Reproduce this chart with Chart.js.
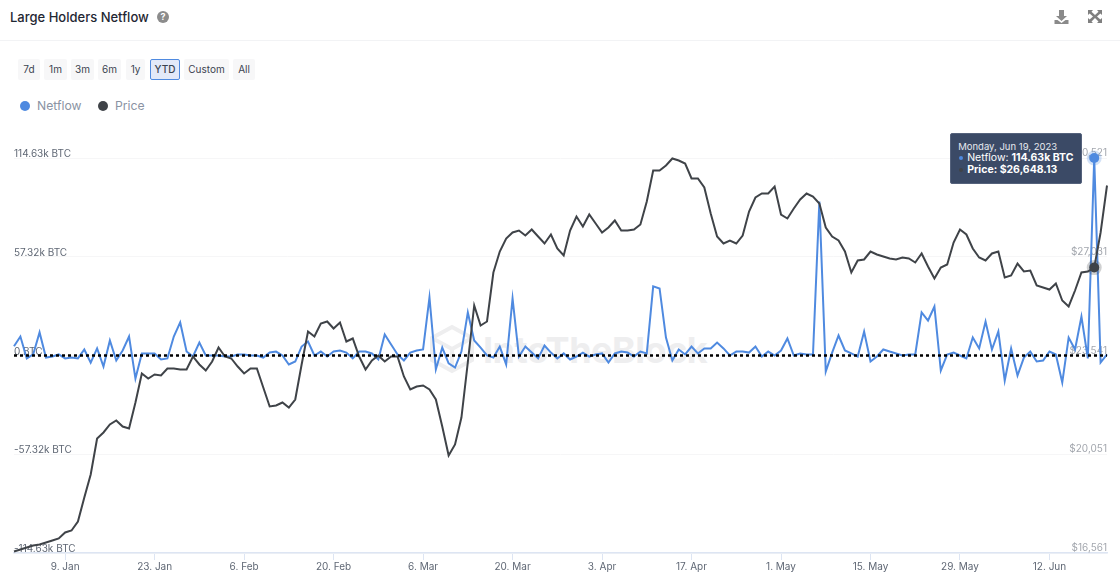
<!DOCTYPE html>
<html>
<head>
<meta charset="utf-8">
<title>Large Holders Netflow</title>
<script src="https://cdn.jsdelivr.net/npm/chart.js@4"></script>
<style>
    html, body { margin: 0; padding: 0; background: #fff; }
    body { width: 1120px; height: 582px; position: relative; overflow: hidden; font-family: Inter, "Noto Sans", sans-serif; }
    #title { position: absolute; left: 10px; top: 8px; font-size: 13px; line-height: 18px; font-weight: 500; color: #1f2733; }
    #help { position: absolute; left: 157px; top: 11px; width: 12px; height: 12px; border-radius: 50%; background: #8c8c8c; color: #fff; font-size: 9px; font-weight: 700; line-height: 12px; text-align: center; }
    #rule { position: absolute; left: 0; top: 40px; width: 1120px; height: 1px; background: #f2f3f5; }
    .icon { position: absolute; top: 9px; }
    .range { position: absolute; top: 59px; height: 21px; line-height: 21px; box-sizing: border-box; text-align: center; font-size: 10px; color: #3b4350; background: #f7f7f8; border-radius: 2px; }
    .range.on { background: #e3e9f8; border: 1px solid #4f8ae0; line-height: 19px; font-weight: 500; }
    .dot { position: absolute; top: 101px; width: 10px; height: 10px; border-radius: 50%; }
    .legend { position: absolute; top: 97px; line-height: 18px; font-size: 12.2px; color: #8a93a3; }
    #mark { position: absolute; left: 427px; top: 324px; }
    #markText { position: absolute; left: 483px; top: 328px; font-size: 36px; line-height: 44px; font-weight: 700; color: #eeeeef; letter-spacing: -0.5px; white-space: nowrap; }
    #chart { position: absolute; left: 0; top: 0; }
    #tip { position: absolute; width: 132px; height: 51px; box-sizing: border-box; padding: 7px 7px; background: #3b4a66; border: 1px solid #55627c; border-radius: 2px; color: #fff; font-size: 10.5px; line-height: 12px; white-space: nowrap; }
    #tip .day { font-size: 9.5px; color: #e6e9ef; margin-bottom: 0; line-height: 11px; }
    #tip i { display: inline-block; width: 4px; height: 4px; border-radius: 50%; margin: 0 4px 1px 1px; vertical-align: middle; }
    #tip b { font-weight: 700; }
</style>
</head>
<body>
<div id="title">Large Holders Netflow</div>
<div id="help">?</div>
<svg class="icon" style="left:1054px" width="15" height="16" viewBox="0 0 15 16"><path d="M5 1h5v6h3l-5.500 5L2 7h3z" fill="#8a8a8a"/><path d="M0.500 11h3l4 3 4-3h3v4h-14z" fill="#8a8a8a"/></svg>
<svg class="icon" style="left:1088px" width="14" height="15" viewBox="0 0 14 15"><path d="M0 1h5L3.500 2.700 7 6 10.500 2.700 9 1h5v5l-1.600-1.500L9 7.500l3.400 3L14 9v5H9l1.500-1.600L7 9l-3.500 3.400L5 14H0V9l1.600 1.500L5 7.500 1.600 4.500 0 6z" fill="#7f7f7f"/></svg>
<div id="rule"></div>
<div id="ranges"></div>
<div class="dot" style="left:20px;background:#4f8ae0"></div>
<div class="legend" style="left:37px">Netflow</div>
<div class="dot" style="left:98px;background:#3f4348"></div>
<div class="legend" style="left:115px">Price</div>
<svg id="mark" width="50" height="50" viewBox="0 0 50 50" fill="none" stroke="#eeeeef" stroke-width="4"><path d="M25 3l20 11v22L25 47 5 36V14z"/><path d="M5 14l20 11 20-11M25 25v22"/></svg>
<div id="markText">IntoTheBlock</div>
<canvas id="chart" width="1120" height="582"></canvas>
<div id="tip" style="display:none"></div>

<script>
const startDate = new Date(Date.UTC(2023, 0, 1));
const rangeButtons = ['7d', '1m', '3m', '6m', '1y', 'YTD', 'Custom', 'All'];
const rangeLefts = [18, 44, 71, 98, 126, 150, 184, 233];
const rangeWidths = [22, 23, 23, 23, 19, 30, 45, 22];

// Netflow, thousands of BTC, one value per day from Jan 1
const netflow = [
    5.4, 11.0, -1.7, 0.6, 13.4, -1.2, -0.6, 0.6, -1.7, -1.2,
    -1.7, 3.5, -4.1, 4.1, -6.4, 8.7, -2.9, 2.9, 11.0, -13.4,
    1.2, 1.2, 1.2, -2.3, -1.7, 11.0, 19.2, 2.3, -0.6, 7.5,
    0, 0, 0, -0.6, -0.6, 0.6, 0.6, 0, 0, -1.2,
    1.7, 2.3, 0, -5.2, -3.5, 5.2, 8.1, 0, 2.3, -0.6,
    2.3, 2.9, 1.7, -1.7, 2.3, 2.3, 1.2, -2.3, 12.2, 6.4,
    0.6, -2.9, 1.7, 2.9, 3.5, 33.7, -8.1, 4.6, -4.6, -7.0,
    2.3, 25.0, 8.7, 4.6, 0, -1.2, 5.2, -5.2, 33.1, -0.6,
    5.2, 1.7, -1.7, 5.8, 1.7, -1.7, 1.2, -2.3, -0.6, 1.7,
    -0.6, 0.6, 1.2, -4.1, 1.2, 2.3, 1.7, -0.6, 2.3, 1.2,
    40.1, 38.9, 10.4, -2.9, 3.5, 0.6, 5.2, 1.2, 4.1, 4.1,
    7.5, 4.1, 0, 2.3, 2.3, 1.7, 5.2, -0.6, 2.3, 0,
    2.9, 9.9, 0, 1.2, 0.6, 0.6, 89.4, -9.3, 1.7, 11.6,
    2.9, 1.2, -0.6, 13.9, -3.5, -0.6, 3.5, 2.3, 1.2, 0,
    0.6, 0.6, 25.0, 20.3, 28.4, -8.7, 0.6, 1.7, 0, -1.7,
    10.4, 4.1, 19.7, 3.5, 13.9, -14.5, 4.1, -11.6, -1.2, 2.3,
    -3.5, -2.9, 2.3, 0.6, -15.7, 10.4, 3.5, 22.6, -1.7, 114.63,
    -4.1, 0.6
];

// BTC price in USD, same days
const price = [
    16614, 16685, 16756, 16826, 16862, 16932, 17003, 17074, 17286, 17356,
    17675, 18523, 19336, 20608, 20820, 21103, 21244, 21032, 20961, 21880,
    22905, 22728, 22870, 22834, 23082, 23082, 23046, 23046, 23506, 23223,
    23011, 23329, 23824, 23506, 23435, 23152, 22905, 23082, 23082, 22410,
    21739, 21774, 21880, 21703, 21986, 23223, 24389, 24212, 24672, 24743,
    24495, 24707, 24036, 24142, 23506, 23046, 23364, 23541, 23329, 23506,
    23506, 22799, 22339, 22445, 22481, 22339, 21986, 21032, 20007, 20396,
    21350, 23294, 25308, 24601, 24743, 26474, 27216, 27676, 27888, 27959,
    27782, 27994, 27746, 27499, 27817, 27322, 27075, 27959, 28453, 28100,
    28524, 28206, 27888, 28065, 28312, 27959, 27959, 27994, 28171, 28983,
    30079, 30079, 30256, 30503, 30432, 30326, 29796, 29796, 29478, 28559,
    27746, 27499, 27605, 27499, 27782, 28630, 29125, 29266, 29266, 29513,
    28524, 28383, 28736, 29054, 29266, 29160, 28913, 28065, 27746, 27605,
    27216, 26474, 26898, 26934, 27216, 27110, 27040, 26969, 26934, 27004,
    26969, 26828, 27146, 26686, 26262, 26651, 26757, 27534, 27994, 27817,
    27322, 27004, 26898, 27146, 27216, 26298, 26368, 26792, 26510, 26545,
    26015, 25944, 25873, 26085, 25485, 25273, 25838, 26474, 26510, 26648.13,
    27888, 29549
];

const xTickDays = [8, 22, 36, 50, 64, 78, 92, 106, 120, 134, 148, 162];
const xTickLabels = ['9. Jan', '23. Jan', '6. Feb', '20. Feb', '6. Mar', '20. Mar', '3. Apr', '17. Apr', '1. May', '15. May', '29. May', '12. Jun'];
const netflowTicks = [114.63, 57.32, 0, -57.32, -114.63];
const netflowTickLabels = ['114.63k BTC', '57.32k BTC', '0 BTC', '-57.32k BTC', '-114.63k BTC'];
const priceTicks = [30521, 27031, 23541, 20051, 16561];
const priceTickLabels = ['$30,521', '$27,031', '$23,541', '$20,051', '$16,561'];
const highlightDay = 169;

const blue = '#4f8ae0';
const dark = '#3f4348';

const rangesEl = document.getElementById('ranges');
rangeButtons.forEach((name, i) => {
    const b = document.createElement('div');
    b.className = name === 'YTD' ? 'range on' : 'range';
    b.style.left = rangeLefts[i] + 'px';
    b.style.width = rangeWidths[i] + 'px';
    b.textContent = name;
    rangesEl.appendChild(b);
});

// Day labels for the category axis
const days = netflow.map((v, i) => new Date(startDate.getTime() + i * 86400000));

// Dotted black line at zero netflow, above the series
const zeroLine = {
    id: 'zeroLine',
    afterDatasetsDraw(chart) {
        const y = chart.scales.yNet.getPixelForValue(0);
        const c = chart.ctx;
        c.save();
        c.strokeStyle = '#000';
        c.lineWidth = 2.5;
        c.setLineDash([3, 3]);
        c.beginPath();
        c.moveTo(chart.chartArea.left, y);
        c.lineTo(chart.chartArea.right, y);
        c.stroke();
        c.restore();
    }
};

// Tooltip is an html box so the values can be bold, it hangs off the netflow point
function drawTip(context) {
    const t = context.tooltip;
    const tip = document.getElementById('tip');
    if (!t.dataPoints || !t.dataPoints.length) {
        tip.style.display = 'none';
        return;
    }
    const point = t.dataPoints.find(p => p.dataset.label === 'Netflow');
    const day = days[point.dataIndex];
    const dayText = day.toLocaleDateString('en-US', { weekday: 'long', month: 'short', day: 'numeric', year: 'numeric', timeZone: 'UTC' });
    const flow = netflow[point.dataIndex].toFixed(2) + 'k BTC';
    const usd = '$' + price[point.dataIndex].toLocaleString('en-US');
    tip.innerHTML = '<div class="day">' + dayText + '</div>' +
        '<div><i style="background:' + blue + '"></i>Netflow: <b>' + flow + '</b></div>' +
        '<div><i style="background:' + dark + '"></i><b>Price: ' + usd + '</b></div>';
    tip.style.left = (point.element.x - 144) + 'px';
    tip.style.top = (point.element.y - 25) + 'px';
    tip.style.display = 'block';
}

const textFont = { family: 'Inter', size: 10 };

const chart = new Chart(document.getElementById('chart').getContext('2d'), {
    type: 'line',
    plugins: [zeroLine],
    data: {
        labels: days.map(d => d.toISOString().slice(0, 10)),
        datasets: [
            {
                label: 'Price',
                data: price,
                yAxisID: 'yPrice',
                borderColor: dark,
                backgroundColor: dark,
                borderWidth: 2,
                pointRadius: 0,
                pointHoverRadius: 5,
                pointHoverBackgroundColor: dark,
                pointHoverBorderColor: 'rgba(63, 67, 72, 0.25)',
                pointHoverBorderWidth: 5,
                tension: 0,
                clip: false,
                order: 1
            },
            {
                label: 'Netflow',
                data: netflow,
                yAxisID: 'yNet',
                borderColor: blue,
                backgroundColor: blue,
                borderWidth: 2,
                pointRadius: 0,
                pointHoverRadius: 5,
                pointHoverBackgroundColor: blue,
                pointHoverBorderColor: 'rgba(79, 138, 224, 0.25)',
                pointHoverBorderWidth: 5,
                tension: 0,
                clip: false,
                order: 2
            }
        ]
    },
    options: {
        responsive: false,
        animation: false,
        events: [],
        layout: { padding: { left: 14, right: 13, top: 158, bottom: 0 } },
        plugins: {
            legend: { display: false },
            tooltip: { enabled: false, external: drawTip, mode: 'index', intersect: false }
        },
        scales: {
            x: {
                type: 'category',
                offset: false,
                afterBuildTicks: s => { s.ticks = xTickDays.map(d => ({ value: d })); },
                afterFit: s => { s.height = 29; },
                border: { color: '#dde5f3', width: 1.5 },
                grid: { drawOnChartArea: false, drawTicks: true, tickLength: 7, color: '#dde5f3' },
                ticks: {
                    autoSkip: false,
                    maxRotation: 0,
                    padding: 1,
                    color: '#5f6774',
                    font: textFont,
                    callback: v => xTickLabels[xTickDays.indexOf(v)]
                }
            },
            yNet: {
                position: 'left',
                min: -114.63,
                max: 114.63,
                afterBuildTicks: s => { s.ticks = netflowTicks.map(v => ({ value: v })); },
                afterFit: s => { s.width = 0; },
                border: { display: false },
                grid: { color: '#f6f6f7', drawTicks: false },
                ticks: {
                    mirror: true,
                    padding: 0,
                    labelOffset: -4,
                    color: '#5f6774',
                    font: textFont,
                    callback: v => netflowTickLabels[netflowTicks.indexOf(v)]
                }
            },
            yPrice: {
                position: 'right',
                min: 16561,
                max: 30521,
                afterBuildTicks: s => { s.ticks = priceTicks.map(v => ({ value: v })); },
                afterFit: s => { s.width = 0; },
                border: { display: false },
                grid: { display: false },
                ticks: {
                    mirror: true,
                    padding: 0,
                    labelOffset: -5,
                    color: '#a3a7ae',
                    font: textFont,
                    callback: v => priceTickLabels[priceTicks.indexOf(v)]
                }
            }
        }
    }
});

// Jun 19 is the highlighted day in the picture
const activePoints = [
    { datasetIndex: 0, index: highlightDay },
    { datasetIndex: 1, index: highlightDay }
];
chart.setActiveElements(activePoints);
chart.tooltip.setActiveElements(activePoints, { x: 1094, y: 159 });
chart.update();
</script>
</body>
</html>
